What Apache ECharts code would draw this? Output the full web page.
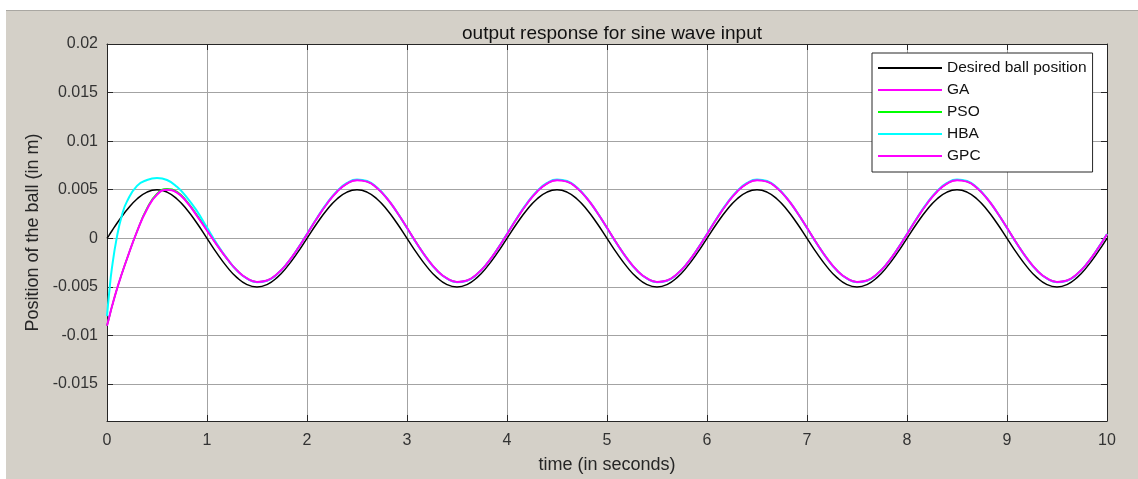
<!DOCTYPE html>
<html>
<head>
<meta charset="utf-8">
<script src="https://cdn.jsdelivr.net/npm/echarts@6/dist/echarts.min.js"></script>
<style>
  html, body { margin: 0; padding: 0; background: #ffffff; }
  #chart {
    position: absolute; left: 6px; top: 10px;
    width: 1132px; height: 469px;
    background: #d4d0c8;
    border-top: 1px solid #a9a7a2;
    box-sizing: border-box;
  }
</style>
</head>
<body>
<div id="chart"></div>
<script>
// time samples (s)
var time = [0, 0.02, 0.05, 0.1, 0.15, 0.2, 0.3, 0.4, 0.5, 0.6, 0.7, 0.8, 0.9,
  1.0, 1.1, 1.2, 1.3, 1.4, 1.5, 1.6, 1.7, 1.8, 1.9,
  2.0, 2.1, 2.2, 2.3, 2.4, 2.5, 2.6, 2.7, 2.8, 2.9, 3.0, 3.1, 3.2, 3.3, 3.4, 3.5, 3.6, 3.7, 3.8, 3.9,
  4.0, 4.1, 4.2, 4.3, 4.4, 4.5, 4.6, 4.7, 4.8, 4.9, 5.0, 5.1, 5.2, 5.3, 5.4, 5.5, 5.6, 5.7, 5.8, 5.9,
  6.0, 6.1, 6.2, 6.3, 6.4, 6.5, 6.6, 6.7, 6.8, 6.9, 7.0, 7.1, 7.2, 7.3, 7.4, 7.5, 7.6, 7.7, 7.8, 7.9,
  8.0, 8.1, 8.2, 8.3, 8.4, 8.5, 8.6, 8.7, 8.8, 8.9, 9.0, 9.1, 9.2, 9.3, 9.4, 9.5, 9.6, 9.7, 9.8, 9.9,
  10.0];

var desired = [0, 0.00031, 0.00078, 0.00155, 0.00227, 0.00294, 0.00405, 0.00476, 0.005, 0.00476, 0.00405, 0.00294, 0.00155,
  0, -0.00155, -0.00294, -0.00405, -0.00476, -0.005, -0.00476, -0.00405, -0.00294, -0.00155,
  0, 0.00155, 0.00294, 0.00405, 0.00476, 0.005, 0.00476, 0.00405, 0.00294, 0.00155, 0, -0.00155, -0.00294, -0.00405, -0.00476, -0.005, -0.00476, -0.00405, -0.00294, -0.00155,
  0, 0.00155, 0.00294, 0.00405, 0.00476, 0.005, 0.00476, 0.00405, 0.00294, 0.00155, 0, -0.00155, -0.00294, -0.00405, -0.00476, -0.005, -0.00476, -0.00405, -0.00294, -0.00155,
  0, 0.00155, 0.00294, 0.00405, 0.00476, 0.005, 0.00476, 0.00405, 0.00294, 0.00155, 0, -0.00155, -0.00294, -0.00405, -0.00476, -0.005, -0.00476, -0.00405, -0.00294, -0.00155,
  0, 0.00155, 0.00294, 0.00405, 0.00476, 0.005, 0.00476, 0.00405, 0.00294, 0.00155, 0, -0.00155, -0.00294, -0.00405, -0.00476, -0.005, -0.00476, -0.00405, -0.00294, -0.00155,
  0];

var ga = [-0.0090, -0.0082, -0.0070, -0.0052, -0.0036, -0.0021, 0.0007, 0.0030, 0.0045, 0.0050, 0.0047, 0.0037, 0.0023,
  0.0008, -0.0007, -0.0021, -0.0033, -0.00413, -0.00449, -0.00434, -0.00368, -0.00260, -0.00118,
  0.00042, 0.00206, 0.00356, 0.00480, 0.00563, 0.00599, 0.00584, 0.00518, 0.00410, 0.00268, 0.00108, -0.00056, -0.00206, -0.00330, -0.00413, -0.00449, -0.00434, -0.00368, -0.00260, -0.00118,
  0.00042, 0.00206, 0.00356, 0.00480, 0.00563, 0.00599, 0.00584, 0.00518, 0.00410, 0.00268, 0.00108, -0.00056, -0.00206, -0.00330, -0.00413, -0.00449, -0.00434, -0.00368, -0.00260, -0.00118,
  0.00042, 0.00206, 0.00356, 0.00480, 0.00563, 0.00599, 0.00584, 0.00518, 0.00410, 0.00268, 0.00108, -0.00056, -0.00206, -0.00330, -0.00413, -0.00449, -0.00434, -0.00368, -0.00260, -0.00118,
  0.00042, 0.00206, 0.00356, 0.00480, 0.00563, 0.00599, 0.00584, 0.00518, 0.00410, 0.00268, 0.00108, -0.00056, -0.00206, -0.00330, -0.00413, -0.00449, -0.00434, -0.00368, -0.00260, -0.00118,
  0.00042];

var pso = [-0.0090, -0.0082, -0.0070, -0.0052, -0.0036, -0.0021, 0.0007, 0.0031, 0.0046, 0.0051, 0.0048, 0.0038, 0.0024,
  0.0009, -0.0007, -0.0021, -0.0033, -0.00413, -0.00449, -0.00434, -0.00368, -0.00260, -0.00118,
  0.00043, 0.00207, 0.00357, 0.00481, 0.00564, 0.00600, 0.00585, 0.00519, 0.00411, 0.00268, 0.00108, -0.00056, -0.00206, -0.00330, -0.00413, -0.00449, -0.00434, -0.00368, -0.00260, -0.00118,
  0.00043, 0.00207, 0.00357, 0.00481, 0.00564, 0.00600, 0.00585, 0.00519, 0.00411, 0.00268, 0.00108, -0.00056, -0.00206, -0.00330, -0.00413, -0.00449, -0.00434, -0.00368, -0.00260, -0.00118,
  0.00043, 0.00207, 0.00357, 0.00481, 0.00564, 0.00600, 0.00585, 0.00519, 0.00411, 0.00268, 0.00108, -0.00056, -0.00206, -0.00330, -0.00413, -0.00449, -0.00434, -0.00368, -0.00260, -0.00118,
  0.00043, 0.00207, 0.00357, 0.00481, 0.00564, 0.00600, 0.00585, 0.00519, 0.00411, 0.00268, 0.00108, -0.00056, -0.00206, -0.00330, -0.00413, -0.00449, -0.00434, -0.00368, -0.00260, -0.00118,
  0.00043];

var hba = [-0.0080, -0.0058, -0.0030, 0.0002, 0.0024, 0.0038, 0.0054, 0.0060, 0.0062, 0.0060, 0.0053, 0.0042, 0.0028,
  0.0011, -0.00058, -0.00208, -0.00332, -0.00415, -0.00451, -0.00436, -0.00370, -0.00261, -0.00117,
  0.00045, 0.00210, 0.00362, 0.00486, 0.00570, 0.00606, 0.00590, 0.00522, 0.00412, 0.00268, 0.00106, -0.00058, -0.00208, -0.00332, -0.00415, -0.00451, -0.00436, -0.00370, -0.00261, -0.00117,
  0.00045, 0.00210, 0.00362, 0.00486, 0.00570, 0.00606, 0.00590, 0.00522, 0.00412, 0.00268, 0.00106, -0.00058, -0.00208, -0.00332, -0.00415, -0.00451, -0.00436, -0.00370, -0.00261, -0.00117,
  0.00045, 0.00210, 0.00362, 0.00486, 0.00570, 0.00606, 0.00590, 0.00522, 0.00412, 0.00268, 0.00106, -0.00058, -0.00208, -0.00332, -0.00415, -0.00451, -0.00436, -0.00370, -0.00261, -0.00117,
  0.00045, 0.00210, 0.00362, 0.00486, 0.00570, 0.00606, 0.00590, 0.00522, 0.00412, 0.00268, 0.00106, -0.00058, -0.00208, -0.00332, -0.00415, -0.00451, -0.00436, -0.00370, -0.00261, -0.00117,
  0.00045];

var gpc = [-0.0090, -0.0082, -0.0070, -0.0052, -0.0036, -0.0021, 0.0007, 0.0030, 0.0045, 0.0050, 0.0047, 0.0037, 0.0023,
  0.0008, -0.0007, -0.0021, -0.0033, -0.00413, -0.00449, -0.00434, -0.00368, -0.00260, -0.00118,
  0.00042, 0.00206, 0.00356, 0.00480, 0.00563, 0.00599, 0.00584, 0.00518, 0.00410, 0.00268, 0.00108, -0.00056, -0.00206, -0.00330, -0.00413, -0.00449, -0.00434, -0.00368, -0.00260, -0.00118,
  0.00042, 0.00206, 0.00356, 0.00480, 0.00563, 0.00599, 0.00584, 0.00518, 0.00410, 0.00268, 0.00108, -0.00056, -0.00206, -0.00330, -0.00413, -0.00449, -0.00434, -0.00368, -0.00260, -0.00118,
  0.00042, 0.00206, 0.00356, 0.00480, 0.00563, 0.00599, 0.00584, 0.00518, 0.00410, 0.00268, 0.00108, -0.00056, -0.00206, -0.00330, -0.00413, -0.00449, -0.00434, -0.00368, -0.00260, -0.00118,
  0.00042, 0.00206, 0.00356, 0.00480, 0.00563, 0.00599, 0.00584, 0.00518, 0.00410, 0.00268, 0.00108, -0.00056, -0.00206, -0.00330, -0.00413, -0.00449, -0.00434, -0.00368, -0.00260, -0.00118,
  0.00042];

var yTicks = [-0.015, -0.01, -0.005, 0, 0.005, 0.01, 0.015, 0.02];
var names = ['Desired ball position', 'GA', 'PSO', 'HBA', 'GPC'];

function pairs(arr) {
  return time.map(function (t, i) { return [t, arr[i]]; });
}

var fontFam = '"Liberation Sans", Arial, Helvetica, sans-serif';
var axisCol = '#262626';

var chart = echarts.init(document.getElementById('chart'), null, { renderer: 'canvas' });

var yBase = {
  type: 'value',
  min: -0.0188,
  max: 0.02,
  axisLine: { show: true, onZero: false, lineStyle: { color: axisCol, width: 1 } },
  axisTick: { show: true, inside: true, length: 6, customValues: yTicks, lineStyle: { color: axisCol } },
  axisLabel: { show: false, customValues: yTicks },
  splitLine: { show: false }
};

chart.setOption({
  animation: false,
  textStyle: { fontFamily: fontFam },
  title: {
    text: 'output response for sine wave input',
    left: 601, top: 8, textAlign: 'center',
    textStyle: { fontSize: 19, fontWeight: 'normal', color: '#111', fontFamily: fontFam }
  },
  grid: { left: 101, top: 33, right: 31, bottom: 58, backgroundColor: '#fff', show: true, borderWidth: 0 },
  legend: {
    data: names,
    orient: 'vertical',
    left: 866, top: 42,
    backgroundColor: '#fff',
    borderColor: axisCol, borderWidth: 1, borderRadius: 0,
    padding: [7, 6, 8, 6],
    icon: 'path://M0,0h64v2h-64z',
    itemWidth: 64, itemHeight: 16, itemGap: 6,
    textStyle: { fontSize: 15.5, color: '#111', fontFamily: fontFam }
  },
  xAxis: [{
    type: 'value', min: 0, max: 10, interval: 1,
    name: 'time (in seconds)', nameLocation: 'middle', nameGap: 35,
    nameTextStyle: { fontSize: 18, color: '#262626', fontFamily: fontFam },
    axisLine: { show: true, onZero: false, lineStyle: { color: axisCol, width: 1 } },
    axisTick: { show: true, inside: true, length: 6, lineStyle: { color: axisCol } },
    axisLabel: { fontSize: 16, color: '#333', margin: 12, fontFamily: fontFam },
    splitLine: { show: true, lineStyle: { color: '#a3a3a3', width: 1 } }
  }, {
    type: 'value', min: 0, max: 10, interval: 1, position: 'top',
    axisLine: { show: true, onZero: false, lineStyle: { color: axisCol, width: 1 } },
    axisTick: { show: true, inside: true, length: 6, lineStyle: { color: axisCol } },
    axisLabel: { show: false },
    splitLine: { show: false }
  }],
  yAxis: [Object.assign({}, yBase, {
    position: 'left',
    name: 'Position of the ball (in m)', nameLocation: 'middle', nameGap: 64,
    nameTextStyle: { fontSize: 18, color: '#262626', fontFamily: fontFam },
    axisLabel: {
      show: true, customValues: yTicks, fontSize: 16, color: '#333', margin: 9, fontFamily: fontFam,
      formatter: function (v) { return String(+v.toFixed(4)); }
    },
    splitLine: { show: true, lineStyle: { color: '#a3a3a3', width: 1 } }
  }), Object.assign({}, yBase, { position: 'right' })],
  series: [
    { name: names[0], type: 'line', data: pairs(desired), symbol: 'none', smooth: true, z: 2,
      lineStyle: { color: '#000000', width: 1.5 }, itemStyle: { color: '#000000' } },
    { name: names[1], type: 'line', data: pairs(ga), symbol: 'none', smooth: true, z: 3,
      lineStyle: { color: '#ff00ff', width: 1.5 }, itemStyle: { color: '#ff00ff' } },
    { name: names[2], type: 'line', data: pairs(pso), symbol: 'none', smooth: true, z: 4,
      lineStyle: { color: '#00ff00', width: 1.5 }, itemStyle: { color: '#00ff00' } },
    { name: names[3], type: 'line', data: pairs(hba), symbol: 'none', smooth: true, z: 5,
      lineStyle: { color: '#00ffff', width: 2 }, itemStyle: { color: '#00ffff' } },
    { name: names[4], type: 'line', data: pairs(gpc), symbol: 'none', smooth: true, z: 6,
      lineStyle: { color: '#ff00ff', width: 2 }, itemStyle: { color: '#ff00ff' } }
  ]
});
</script>
</body>
</html>
